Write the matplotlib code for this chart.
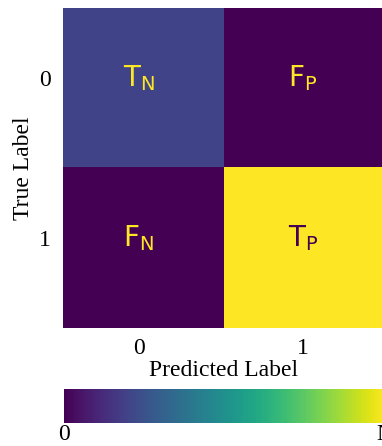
import numpy as np
import matplotlib.pyplot as plt

# confusion matrix values, scaled by N
cm = np.array([[0.2, 0.0],
               [0.0, 1.0]])
cell_text = [['$\\mathsf{T_N}$', '$\\mathsf{F_P}$'],
             ['$\\mathsf{F_N}$', '$\\mathsf{T_P}$']]
tick_labels = ['0', '1']
cbar_ticks = [0.0, 1.0]
cbar_labels = ['0', 'N']

plt.rcParams['font.family'] = ['Liberation Serif', 'DejaVu Serif']

fig = plt.figure(figsize=(3.82, 4.46), dpi=100)
ax = fig.add_axes([0.165, 0.2646, 0.843, 0.7175])
cax = fig.add_axes([0.1675, 0.0516, 0.84, 0.076])

im = ax.imshow(cm, cmap='viridis', vmin=0, vmax=1, aspect='auto')

dy = -0.06  # labels sit a bit above the cell centres
dx = [-0.03, -0.01]
for i in range(2):
    for j in range(2):
        col = '#440154' if cm[i, j] > 0.5 else '#fde725'
        ax.text(j + dx[j], i + dy, cell_text[i][j], ha='center', va='center',
                fontsize=20, color=col)

ax.set_xticks([k + dx[k] for k in range(2)])
ax.set_yticks([k + dy for k in range(2)])
ax.set_xlim(-0.5, 1.5)
ax.set_ylim(1.5, -0.5)
ax.set_xticklabels(tick_labels, fontsize=17)
ax.set_yticklabels(tick_labels, fontsize=17)
ax.tick_params(axis='x', length=0, pad=7)
ax.tick_params(axis='y', length=0, pad=9)
ax.set_xlabel('Predicted Label', fontsize=17, labelpad=1)
ax.set_ylabel('True Label', fontsize=17, labelpad=3)
for s in ax.spines.values():
    s.set_visible(False)

cb = fig.colorbar(im, cax=cax, orientation='horizontal')
cb.set_ticks(cbar_ticks)
cb.set_ticklabels(cbar_labels)
cb.ax.tick_params(length=0, labelsize=17, pad=1)
cb.outline.set_visible(False)

fig.savefig('out.png', dpi=100)
